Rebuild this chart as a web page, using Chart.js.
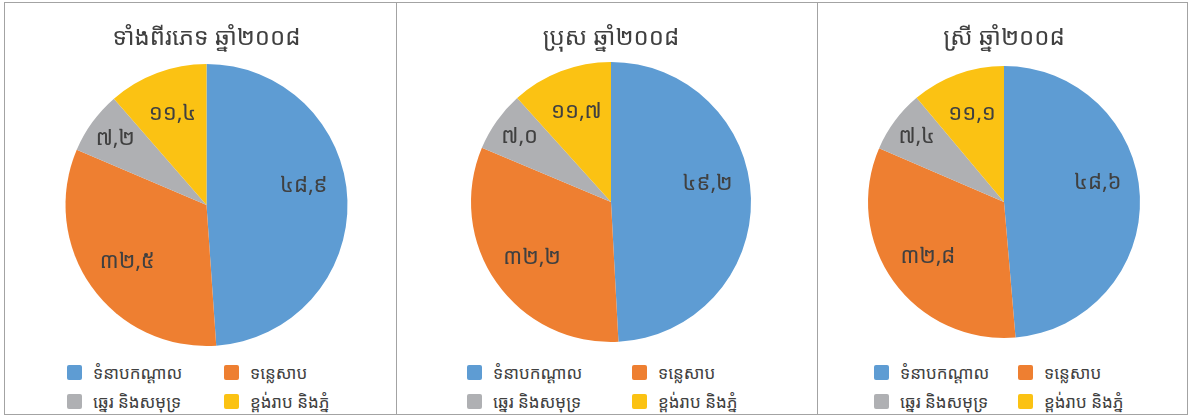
<!DOCTYPE html>
<html><head><meta charset="utf-8">
<script src="https://cdn.jsdelivr.net/npm/chart.js@4.4.0/dist/chart.umd.min.js"></script>
<style>
html,body{margin:0;padding:0;background:#fff;width:1189px;height:416px;overflow:hidden;}
.panel{position:absolute;top:2px;height:413px;box-sizing:border-box;border:1px solid #a3a3a3;background:#fff;}
.panel canvas{position:absolute;left:0;top:0;}
.lg{position:absolute;display:flex;align-items:center;height:16px;font-family:"Noto Sans Khmer","Khmer OS","Noto Sans","DejaVu Sans",sans-serif;font-size:17px;color:#404040;white-space:nowrap;}
.lg i{display:inline-block;width:15px;height:15px;border-radius:2px;margin-right:11px;flex:none;}
</style>
</head><body>
<script>
// ---- data ----
const categories = ['ទំនាបកណ្ដាល', 'ទន្លេសាប', 'ឆ្នេរ និងសមុទ្រ', 'ខ្ពង់រាប និងភ្នំ'];
const titles = ['ទាំងពីរភេទ ឆ្នាំ២០០៨', 'ប្រុស ឆ្នាំ២០០៨', 'ស្រី ឆ្នាំ២០០៨'];
const bothSexes = [48.9, 32.5, 7.2, 11.4];
const male = [49.2, 32.2, 7.0, 11.7];
const female = [48.6, 32.8, 7.4, 11.1];

// ---- style / layout ----
const colors = ['#5E9CD3', '#EE7F31', '#AFB0B3', '#FBC213'];
const FONT = '"Noto Sans Khmer","Khmer OS","Noto Sans","DejaVu Sans",sans-serif';
const panels = [
  {data: bothSexes, left: 4, width: 393, pl: 12, pr: 0, pb: 7, tpb: 11.2, lgx: [62, 219]},
  {data: male, left: 396, width: 422, pl: 8, pr: 0, pb: 11, tpb: 9.2, lgx: [70, 235]},
  {data: female, left: 817, width: 371, pl: 3, pr: 0, pb: 15, tpb: 13.2, lgx: [56, 200]}
];
const lgRows = [361, 390];

const khDigits = '០១២៣៤៥៦៧៨៩';
function kh(v){ return v.toFixed(1).replace('.', ',').replace(/\d/g, d => khDigits[d]); }

const sliceLabels = {
  id: 'sliceLabels',
  afterDatasetsDraw(chart){
    const ctx = chart.ctx;
    const vals = chart.data.datasets[0].data;
    const total = vals.reduce((a, b) => a + b, 0);
    const meta = chart.getDatasetMeta(0);
    ctx.save();
    ctx.font = '22px ' + FONT;
    ctx.fillStyle = '#404040';
    ctx.textAlign = 'center';
    ctx.textBaseline = 'middle';
    meta.data.forEach((arc, i) => {
      const p = arc.getProps(['x', 'y', 'startAngle', 'endAngle', 'outerRadius'], true);
      const mid = (p.startAngle + p.endAngle) / 2;
      const share = vals[i] / total;
      const f = share < 0.1 ? 0.8 : 0.69;
      const x = p.x + Math.cos(mid) * p.outerRadius * f;
      let y = p.y + Math.sin(mid) * p.outerRadius * f;
      if (share > 0.45) y -= p.outerRadius * 0.11;
      ctx.fillText(kh(vals[i]), x, y);
    });
    ctx.restore();
  }
};

panels.forEach((pn, k) => {
  const div = document.createElement('div');
  div.className = 'panel';
  div.style.left = pn.left + 'px';
  div.style.width = pn.width + 'px';
  document.body.appendChild(div);
  const cv = document.createElement('canvas');
  const w = pn.width - 2, h = 350;
  cv.width = w; cv.height = h;
  cv.style.width = w + 'px'; cv.style.height = h + 'px';
  div.appendChild(cv);

  new Chart(cv, {
    type: 'pie',
    data: {
      labels: categories,
      datasets: [{data: pn.data, backgroundColor: colors, borderWidth: 0}]
    },
    options: {
      responsive: false,
      animation: false,
      devicePixelRatio: 1,
      layout: {padding: {left: pn.pl, right: pn.pr, top: 0, bottom: pn.pb}},
      plugins: {
        legend: {display: false},
        tooltip: {enabled: false},
        title: {
          display: true,
          text: titles[k],
          color: '#404040',
          font: {family: FONT, size: 24, weight: 'normal', lineHeight: 1.2},
          padding: {top: 21, bottom: pn.tpb}
        }
      }
    },
    plugins: [sliceLabels]
  });

  categories.forEach((c, i) => {
    const it = document.createElement('div');
    it.className = 'lg';
    it.style.left = pn.lgx[i % 2] + 'px';
    it.style.top = lgRows[Math.floor(i / 2)] + 'px';
    const sq = document.createElement('i');
    sq.style.background = colors[i];
    it.appendChild(sq);
    it.appendChild(document.createTextNode(c));
    div.appendChild(it);
  });
});
</script>
</body></html>
